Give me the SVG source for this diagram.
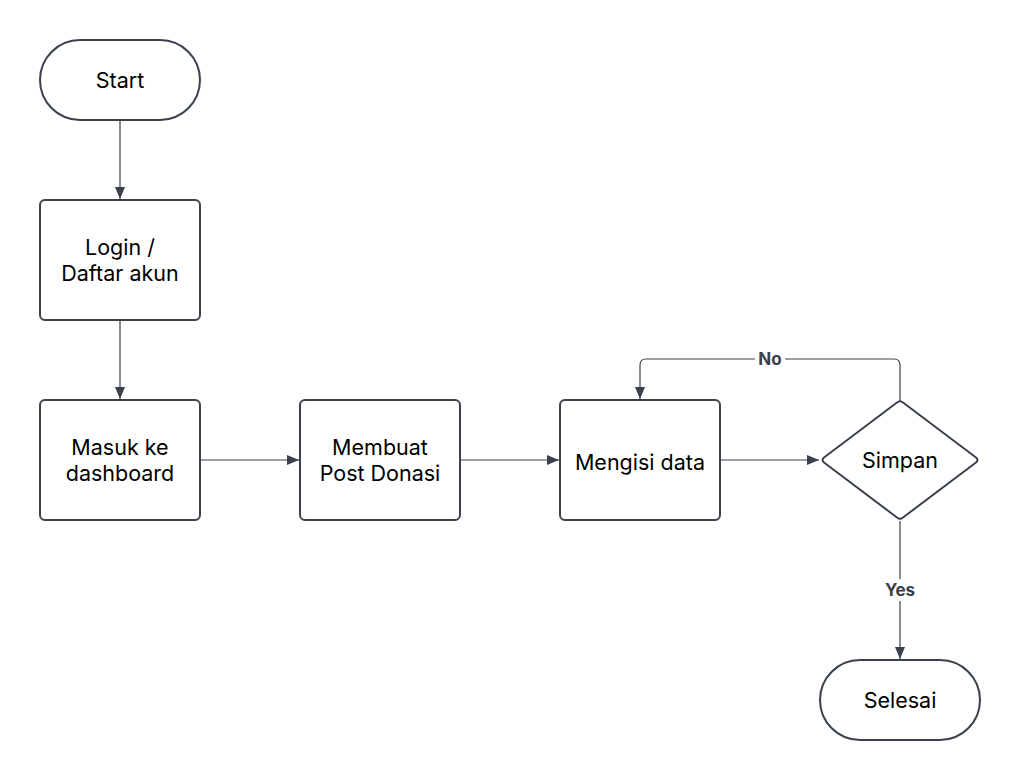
<svg xmlns="http://www.w3.org/2000/svg" width="1020" height="780" viewBox="0 0 1020 780">
<defs>
<marker id="arr" viewBox="0 0 12 10" refX="12" refY="5" markerWidth="12" markerHeight="10" markerUnits="userSpaceOnUse" orient="auto">
<path d="M0,0 L12,5 L0,10 Z" fill="#3a414a"/>
</marker>
</defs>
<style>
.shape{fill:#ffffff;stroke:#3a414a;stroke-width:2}
.txt{font-family:Inter,"Liberation Sans",sans-serif;font-size:21.5px;fill:#000;text-anchor:middle;dominant-baseline:central}
.conn{fill:none;stroke:#3a414a;stroke-width:1.2;marker-end:url(#arr)}
.lbl{font-family:Inter,"Liberation Sans",sans-serif;font-size:17px;font-weight:bold;fill:#3a414a;text-anchor:middle;dominant-baseline:central}
.lblbg{fill:#ffffff}
</style>
<rect width="1020" height="780" fill="#ffffff"/>
<g id="connectors">
<path class="conn" d="M120,121 L120,199"/>
<path class="conn" d="M120,321 L120,399"/>
<path class="conn" d="M201,460 L299,460"/>
<path class="conn" d="M461,460 L559,460"/>
<path class="conn" d="M721,460 L819,460"/>
<path class="conn" d="M900,401 L900,365 Q900,359 894,359 L646,359 Q640,359 640,365 L640,399"/>
<path class="conn" d="M900,521 L900,659"/>
<rect class="lblbg" x="755" y="349" width="30" height="20"/>
<text class="lbl" x="770" y="359">No</text>
<rect class="lblbg" x="881" y="579" width="38" height="22"/>
<text class="lbl" x="900" y="590">Yes</text>
</g>
<g id="start">
<rect class="shape" x="40" y="40" width="160" height="80" rx="40" ry="40"/>
<text class="txt" x="120" y="80">Start</text>
</g>
<g id="login">
<rect class="shape" x="40" y="200" width="160" height="120" rx="5" ry="5"/>
<text class="txt" x="120" y="247">Login /</text>
<text class="txt" x="120" y="273">Daftar akun</text>
</g>
<g id="masuk">
<rect class="shape" x="40" y="400" width="160" height="120" rx="5" ry="5"/>
<text class="txt" x="120" y="447">Masuk ke</text>
<text class="txt" x="120" y="473">dashboard</text>
</g>
<g id="membuat">
<rect class="shape" x="300" y="400" width="160" height="120" rx="5" ry="5"/>
<text class="txt" x="380" y="447">Membuat</text>
<text class="txt" x="380" y="473">Post Donasi</text>
</g>
<g id="mengisi">
<rect class="shape" x="560" y="400" width="160" height="120" rx="5" ry="5"/>
<text class="txt" x="640" y="462">Mengisi data</text>
</g>
<g id="simpan">
<path class="shape" stroke-linejoin="round" d="M903,402.5 L976,457.5 Q979,460 976,462.5 L903,517.5 Q900,520 897,517.5 L824,462.5 Q821,460 824,457.5 L897,402.5 Q900,400 903,402.5 Z"/>
<text class="txt" x="900" y="460">Simpan</text>
</g>
<g id="selesai">
<rect class="shape" x="820" y="660" width="160" height="80" rx="40" ry="40"/>
<text class="txt" x="900" y="700">Selesai</text>
</g>
</svg>
